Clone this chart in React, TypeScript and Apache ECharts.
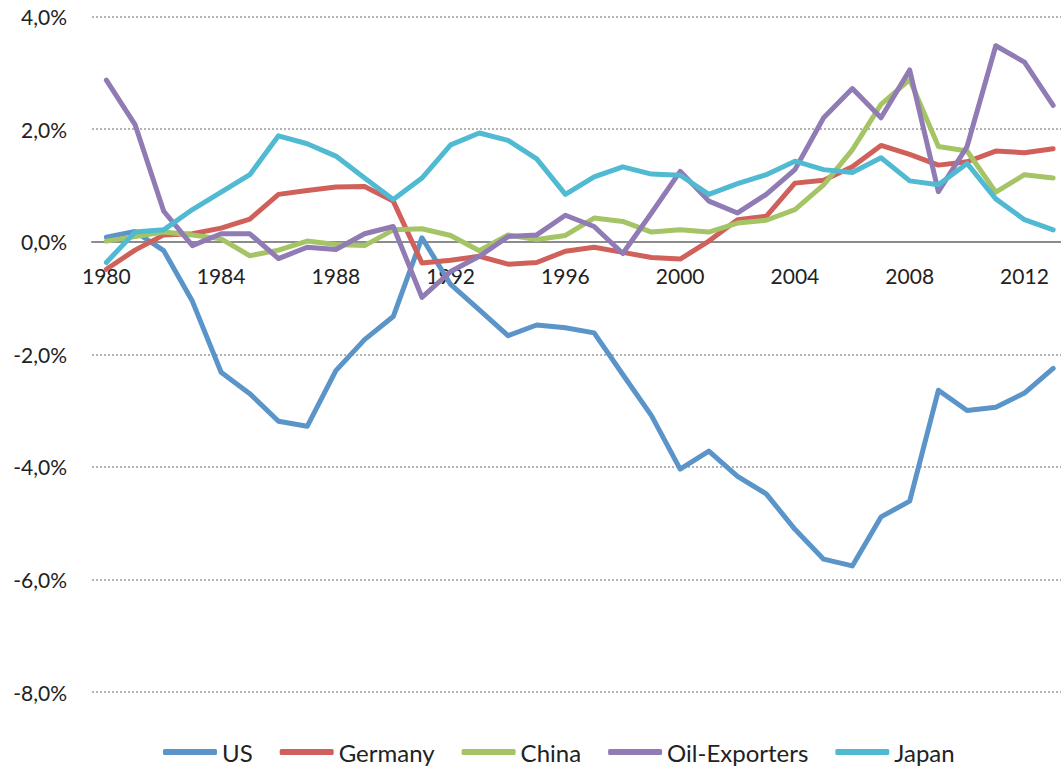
import React, { useEffect, useRef } from "react";
import * as echarts from "echarts";

const years: string[] = [];
for (let y = 1980; y <= 2013; y++) years.push(String(y));

const us = [0.08, 0.18, -0.16, -1.06, -2.32, -2.70, -3.19, -3.28, -2.29, -1.74, -1.33, 0.07, -0.76, -1.21, -1.67, -1.48, -1.53, -1.62, -2.36, -3.09, -4.04, -3.72, -4.17, -4.48, -5.11, -5.64, -5.76, -4.89, -4.61, -2.64, -3.00, -2.94, -2.69, -2.25];
const germany = [-0.49, -0.15, 0.12, 0.14, 0.24, 0.40, 0.84, 0.91, 0.97, 0.98, 0.72, -0.38, -0.33, -0.26, -0.40, -0.37, -0.17, -0.10, -0.19, -0.28, -0.31, 0.01, 0.39, 0.45, 1.04, 1.09, 1.33, 1.71, 1.55, 1.36, 1.42, 1.61, 1.58, 1.65];
const china = [0.01, 0.09, 0.17, 0.12, 0.05, -0.25, -0.15, 0.01, -0.05, -0.07, 0.21, 0.23, 0.11, -0.16, 0.12, 0.04, 0.11, 0.42, 0.36, 0.17, 0.21, 0.17, 0.33, 0.38, 0.57, 1.01, 1.63, 2.44, 2.88, 1.69, 1.61, 0.88, 1.19, 1.13];
const oilExporters = [2.87, 2.08, 0.54, -0.07, 0.14, 0.14, -0.30, -0.10, -0.14, 0.14, 0.27, -0.99, -0.53, -0.26, 0.09, 0.12, 0.47, 0.27, -0.21, 0.51, 1.25, 0.72, 0.51, 0.84, 1.28, 2.20, 2.72, 2.20, 3.05, 0.89, 1.69, 3.48, 3.19, 2.42];
const japan = [-0.37, 0.17, 0.21, 0.57, 0.88, 1.19, 1.88, 1.74, 1.52, 1.13, 0.75, 1.13, 1.72, 1.93, 1.80, 1.47, 0.84, 1.15, 1.33, 1.20, 1.18, 0.84, 1.03, 1.19, 1.43, 1.28, 1.23, 1.49, 1.08, 1.01, 1.39, 0.76, 0.39, 0.21];

const seriesNames = ["US", "Germany", "China", "Oil-Exporters", "Japan"];
const seriesColors = ["#5a94c9", "#d0605a", "#a5c466", "#907bb4", "#4fbad2"];
const seriesData = [us, germany, china, oilExporters, japan];

const FONT = "Lato, 'Open Sans', sans-serif";
const Y_MIN = -8;
const Y_MAX = 4;
const GRID_TOP = 16.5;
const GRID_BOTTOM_PX = 692;

export default function App() {
  const ref = useRef<HTMLDivElement>(null);
  useEffect(() => {
    if (!ref.current) return;
    const chart = echarts.init(ref.current, undefined, { renderer: "svg" });
    // place the category axis on the zero line via offset from the grid bottom
    const zeroOffset = -((0 - Y_MIN) / (Y_MAX - Y_MIN)) * (GRID_BOTTOM_PX - GRID_TOP);
    chart.setOption({
      animation: false,
      backgroundColor: "#ffffff",
      textStyle: { fontFamily: FONT },
      grid: {
        left: 92,
        right: -6.5,
        top: GRID_TOP,
        bottom: 767 - GRID_BOTTOM_PX,
        containLabel: false,
        outerBoundsMode: "none",
      },
      legend: {
        left: 158,
        top: 734,
        itemWidth: 54,
        itemHeight: 6,
        itemGap: 27,
        icon: "roundRect",
        textStyle: { fontFamily: FONT, fontSize: 24, color: "#222222", lineHeight: 26 },
        data: seriesNames,
      },
      xAxis: {
        type: "category",
        data: years,
        boundaryGap: true,
        position: "bottom",
        offset: zeroOffset,
        axisLine: { onZero: false, lineStyle: { color: "#8c8c8c", width: 2 } },
        axisTick: { show: false },
        axisLabel: {
          interval: 3,
          margin: 23,
          fontSize: 21,
          fontFamily: FONT,
          color: "#222222",
        },
        splitLine: { show: false },
      },
      yAxis: {
        type: "value",
        min: Y_MIN,
        max: Y_MAX,
        interval: 2,
        axisLine: { show: false },
        axisTick: { show: false },
        axisLabel: {
          margin: 25,
          fontSize: 21,
          fontFamily: FONT,
          color: "#222222",
          formatter: (v: number) => v.toFixed(1).replace(".", ",") + "%",
        },
        splitLine: {
          show: true,
          lineStyle: { color: "#9a9a9a", type: [2, 2], width: 1.5 },
        },
      },
      series: seriesNames.map((name, i) => ({
        name,
        type: "line",
        data: seriesData[i],
        symbol: "none",
        showSymbol: false,
        color: seriesColors[i],
        lineStyle: { width: 5, color: seriesColors[i], cap: "round", join: "round" },
        itemStyle: { color: seriesColors[i] },
      })),
    });
    return () => chart.dispose();
  }, []);
  return (
    <div
      ref={ref}
      style={{ position: "fixed", left: 0, top: 0, width: 1061, height: 767, background: "#fff" }}
    />
  );
}
